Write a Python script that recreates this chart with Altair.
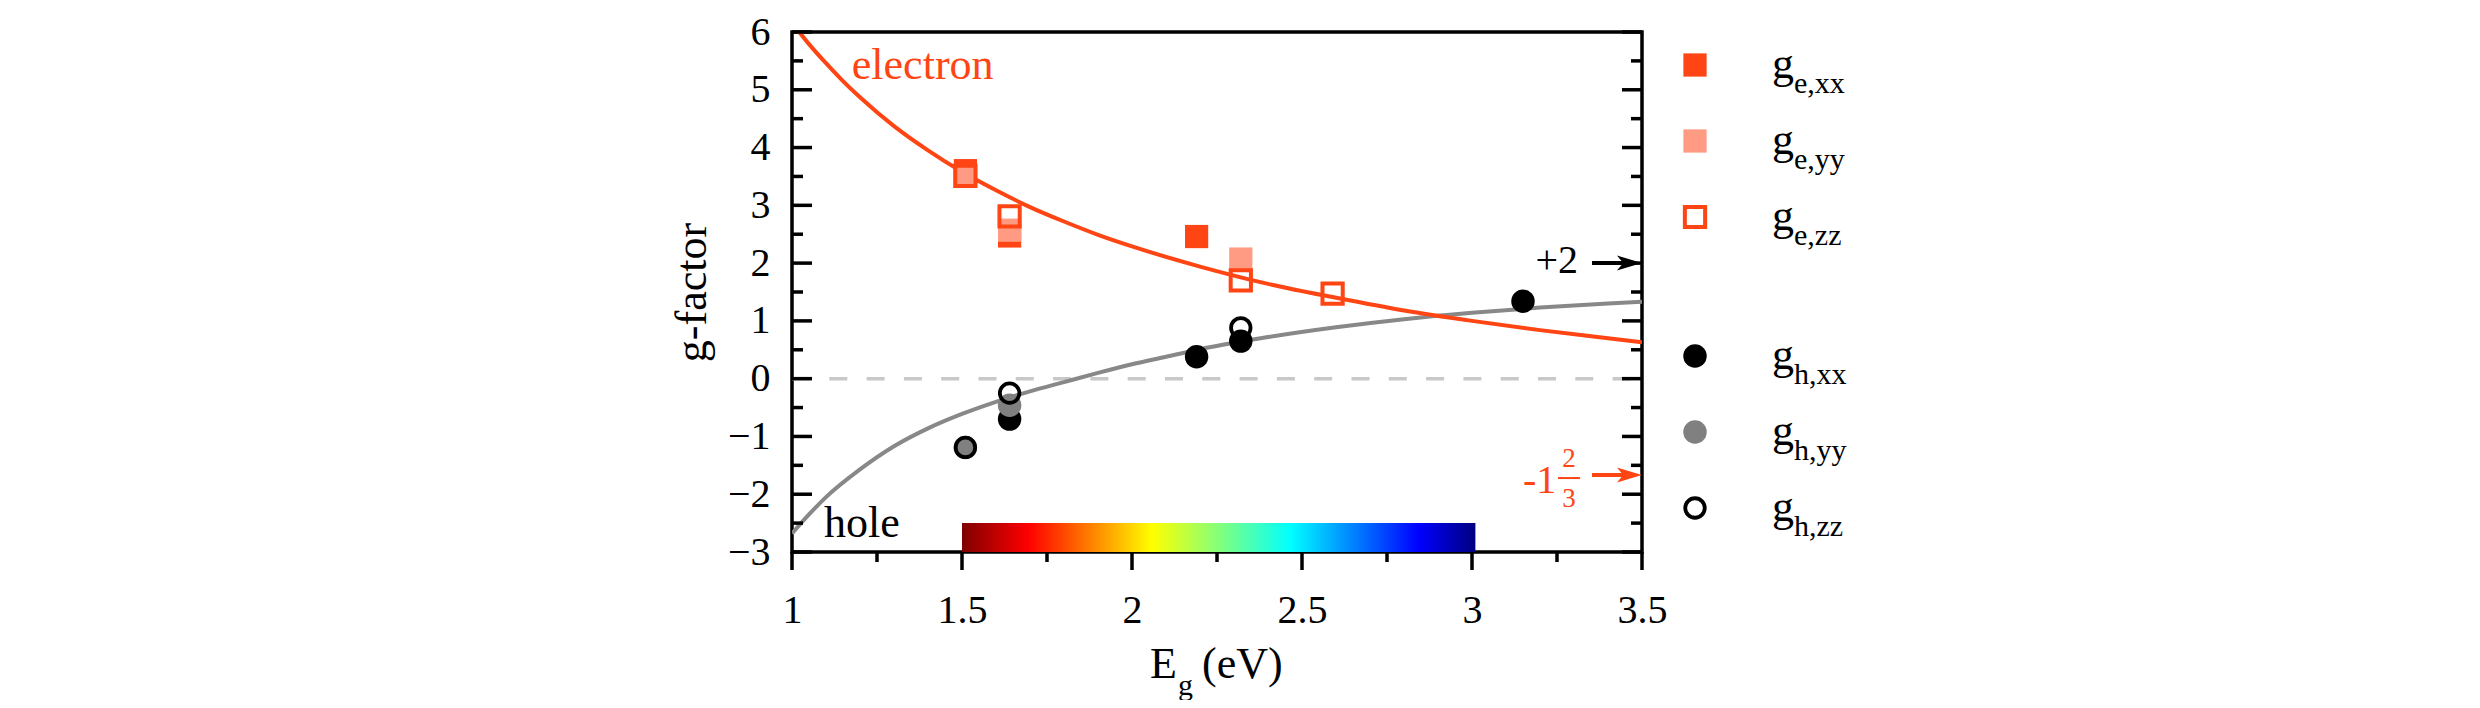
import altair as alt
import pandas as pd

# ---------------- data ----------------
e_xx_x = [1.51, 1.64, 2.19]
e_xx_y = [3.60, 2.47, 2.46]
e_yy_x = [1.51, 1.64, 2.32]
e_yy_y = [3.50, 2.57, 2.07]
e_zz_x = [1.51, 1.64, 2.32, 2.59]
e_zz_y = [3.51, 2.81, 1.70, 1.47]

h_xx_x = [1.64, 2.19, 2.32, 3.15]
h_xx_y = [-0.70, 0.38, 0.65, 1.34]
h_yy_x = [1.51, 1.64]
h_yy_y = [-1.19, -0.46]
h_zz_x = [1.51, 1.64, 2.32]
h_zz_y = [-1.19, -0.25, 0.88]

electron_curve_x = [1.02, 1.05, 1.1, 1.15, 1.2, 1.3, 1.4, 1.5, 1.6, 1.7, 1.8, 1.9,
                    2.0, 2.2, 2.4, 2.6, 2.8, 3.0, 3.2, 3.4, 3.5]
electron_curve_y = [6.01, 5.79, 5.46, 5.15, 4.87, 4.37, 3.95, 3.58, 3.26, 2.97, 2.72,
                    2.49, 2.29, 1.94, 1.64, 1.40, 1.18, 1.00, 0.84, 0.70, 0.63]

hole_curve_x = [1.0, 1.05, 1.1, 1.2, 1.3, 1.4, 1.5, 1.6, 1.7, 1.8, 1.9, 2.0, 2.1,
                2.2, 2.4, 2.6, 2.8, 3.0, 3.2, 3.4, 3.5]
hole_curve_y = [-2.68, -2.35, -2.05, -1.57, -1.17, -0.86, -0.61, -0.40, -0.22, -0.06,
                0.10, 0.25, 0.38, 0.51, 0.72, 0.89, 1.03, 1.14, 1.23, 1.30, 1.33]

x_ticks = [1, 1.5, 2, 2.5, 3, 3.5]
x_minor = [1.25, 1.75, 2.25, 2.75, 3.25]
y_ticks = [-3, -2, -1, 0, 1, 2, 3, 4, 5, 6]
y_minor = [-2.5, -1.5, -0.5, 0.5, 1.5, 2.5, 3.5, 4.5, 5.5]

spectrum_x = [1.5, 3.01]
spectrum_y = [-3.0, -2.5]
spectrum_colors = ["#7f0000", "#ff0000", "#ffff00", "#00ffff", "#0000ff", "#00007f"]
spectrum_offsets = [0.0, 0.13, 0.37, 0.64, 0.89, 1.0]

hole_limit = 2.0
electron_limit = -1.667

legend_labels = ["e,xx", "e,yy", "e,zz", "h,xx", "h,yy", "h,zz"]

# ---------------- styling ----------------
FONT = "Liberation Serif"
ORANGE = "#ff4513"
LIGHT = "#ff9b82"
GRAY = "#808080"
W, H = 850, 520

xs = alt.Scale(domain=[1, 3.5], nice=False, zero=False)
ys = alt.Scale(domain=[-3, 6], nice=False, zero=False)

x_axis = alt.Axis(values=x_ticks, format="~g", labelFont=FONT, labelFontSize=40,
                  labelColor="black", labelPadding=38, ticks=False, domain=False,
                  grid=False, title=None, labelFlush=False, labelOverlap=False)
y_axis = alt.Axis(values=y_ticks, format="d", labelFont=FONT, labelFontSize=40,
                  labelColor="black", labelPadding=22, ticks=False, domain=False,
                  grid=False, title="g-factor", titleFont=FONT, titleFontSize=44,
                  titleFontWeight="normal", titleColor="black", titleX=-87,
                  titleY=260, titleAngle=270, titleAlign="center",
                  titleBaseline="alphabetic", labelFlush=False, labelOverlap=False)


def X(f="x"):
    return alt.X(f + ":Q", scale=xs, axis=x_axis)


def Y(f="y"):
    return alt.Y(f + ":Q", scale=ys, axis=y_axis)


def df(**kw):
    return pd.DataFrame(kw)


layers = []

# zero line
layers.append(alt.Chart(df(x=[1.0], x2=[3.5], y=[0.0])).mark_rule(
    color="#c8c8c8", strokeWidth=3.5, strokeDash=[18, 19.3]).encode(
    x=X(), x2="x2:Q", y=Y()))

# spectrum bar
grad = alt.Gradient(gradient="linear",
                    stops=[alt.GradientStop(color=c, offset=o)
                           for c, o in zip(spectrum_colors, spectrum_offsets)],
                    x1=0, x2=1, y1=0, y2=0)
layers.append(alt.Chart(df(x=[spectrum_x[0]], x2=[spectrum_x[1]],
                           y=[spectrum_y[0]], y2=[spectrum_y[1]])).mark_rect(
    fill=grad).encode(x=X(), x2="x2:Q", y=Y(), y2="y2:Q"))

# curves
layers.append(alt.Chart(df(x=hole_curve_x, y=hole_curve_y)).mark_line(
    color="#888888", strokeWidth=4, interpolate="monotone", clip=True).encode(x=X(), y=Y()))
layers.append(alt.Chart(df(x=electron_curve_x, y=electron_curve_y)).mark_line(
    color=ORANGE, strokeWidth=4, interpolate="monotone", clip=True).encode(x=X(), y=Y()))

styles = {
    "e,xx": dict(shape="square", filled=True, color=ORANGE, size=540, strokeWidth=0),
    "e,yy": dict(shape="square", filled=True, color=LIGHT, size=540, strokeWidth=0),
    "e,zz": dict(shape="square", filled=False, color=ORANGE, size=410, strokeWidth=4),
    "h,xx": dict(shape="circle", filled=True, color="black", size=550, strokeWidth=0),
    "h,yy": dict(shape="circle", filled=True, color=GRAY, size=550, strokeWidth=0),
    "h,zz": dict(shape="circle", filled=False, color="black", size=380, strokeWidth=3.8),
}
series = {
    "e,xx": (e_xx_x, e_xx_y), "e,yy": (e_yy_x, e_yy_y), "e,zz": (e_zz_x, e_zz_y),
    "h,xx": (h_xx_x, h_xx_y), "h,yy": (h_yy_x, h_yy_y), "h,zz": (h_zz_x, h_zz_y),
}
for key in legend_labels:
    sx, sy = series[key]
    layers.append(alt.Chart(df(x=sx, y=sy)).mark_point(opacity=1, **styles[key]).encode(
        x=X(), y=Y()))


# annotations
def txt(x, y, s, size, color, align="left"):
    return alt.Chart(df(x=[x], y=[y])).mark_text(
        text=s, font=FONT, fontSize=size, color=color, align=align,
        baseline="alphabetic").encode(x=X(), y=Y())


layers.append(txt(1.176, 5.19, "electron", 44, ORANGE))
layers.append(txt(1.094, -2.74, "hole", 44, "black"))
layers.append(txt(3.312, 1.83, "+2", 40, "black", "right"))
layers.append(txt(3.15, -1.98, "-1", 40, ORANGE))
layers.append(txt(3.285, -1.53, "2", 27, ORANGE, "center"))
layers.append(txt(3.285, -2.22, "3", 27, ORANGE, "center"))
layers.append(alt.Chart(df(x=[3.253], x2=[3.318], y=[-1.72])).mark_rule(
    color=ORANGE, strokeWidth=2).encode(x=X(), x2="x2:Q", y=Y()))

ARROW = "M -1 -0.6 L 1 0 L -1 0.6 L -0.5 0 Z"
for val, col in [(hole_limit, "black"), (electron_limit, ORANGE)]:
    layers.append(alt.Chart(df(x=[3.353], x2=[3.46], y=[val])).mark_rule(
        color=col, strokeWidth=4).encode(x=X(), x2="x2:Q", y=Y()))
    layers.append(alt.Chart(df(x=[3.463], y=[val])).mark_point(
        shape=ARROW, filled=True, color=col, size=625, opacity=1, strokeWidth=0).encode(
        x=X(), y=Y()))

# ticks (inward on left/right, outward on bottom)
for vals, ln in [(y_ticks, 20), (y_minor, 11)]:
    layers.append(alt.Chart(df(y=vals)).mark_rule(color="black", strokeWidth=3.5).encode(
        y=Y(), x=alt.value(0), x2=alt.value(ln)))
    layers.append(alt.Chart(df(y=vals)).mark_rule(color="black", strokeWidth=3.5).encode(
        y=Y(), x=alt.value(W), x2=alt.value(W - ln)))
for vals, ln in [(x_ticks, 18), (x_minor, 10)]:
    layers.append(alt.Chart(df(x=vals)).mark_rule(color="black", strokeWidth=3.5).encode(
        x=X(), y=alt.value(H), y2=alt.value(H + ln)))

# x-axis title with subscript
one = df(k=[0])
layers.append(alt.Chart(one).mark_text(text="E", font=FONT, fontSize=44, color="black",
                                       align="left", baseline="alphabetic").encode(
    x=alt.value(358), y=alt.value(646)))
layers.append(alt.Chart(one).mark_text(text="g", font=FONT, fontSize=30, color="black",
                                       align="left", baseline="alphabetic").encode(
    x=alt.value(386), y=alt.value(663)))
layers.append(alt.Chart(one).mark_text(text="(eV)", font=FONT, fontSize=44, color="black",
                                       align="left", baseline="alphabetic").encode(
    x=alt.value(410), y=alt.value(646)))

# custom legend
for i, key in enumerate(legend_labels):
    py = (33 + 76 * i) if i < 3 else (324 + 76 * (i - 3))
    layers.append(alt.Chart(one).mark_point(opacity=1, **styles[key]).encode(
        x=alt.value(903), y=alt.value(py)))
    layers.append(alt.Chart(one).mark_text(text="g", font=FONT, fontSize=44, color="black",
                                           align="left", baseline="alphabetic").encode(
        x=alt.value(980), y=alt.value(py + 13)))
    layers.append(alt.Chart(one).mark_text(text=key, font=FONT, fontSize=30, color="black",
                                           align="left", baseline="alphabetic").encode(
        x=alt.value(1002), y=alt.value(py + 28)))

chart = alt.layer(*layers).properties(
    width=W, height=H,
    autosize=alt.AutoSizeParams(type="none"),
    padding={"left": 784, "top": 24, "right": 830, "bottom": 148},
    background="white",
).configure_view(stroke="black", strokeWidth=3.5)

chart.save("out.html", embed_options={"renderer": "svg", "actions": False})
